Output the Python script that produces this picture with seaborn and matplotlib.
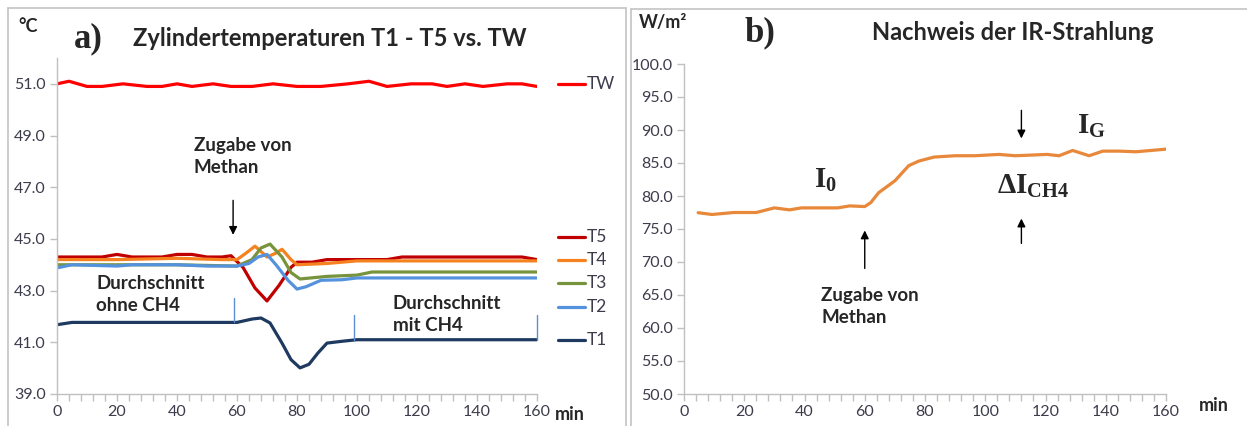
import numpy as np
import pandas as pd
import matplotlib.pyplot as plt
import matplotlib.ticker as mticker
from matplotlib.lines import Line2D
import seaborn as sns

# data
# a) cylinder temperatures
tw_t = [0, 4, 10, 15, 22, 30, 35, 40, 45, 52, 58, 65, 72, 80, 88, 97, 104, 110, 118, 125, 130, 136, 142, 150, 155, 160]
tw_v = [51.0, 51.1, 50.9, 50.9, 51.0, 50.9, 50.9, 51.0, 50.9, 51.0, 50.9, 50.9, 51.0, 50.9, 50.9, 51.0, 51.1, 50.9, 51.0, 51.0, 50.9, 51.0, 50.9, 51.0, 51.0, 50.9]

t5_t = [0, 15, 20, 25, 35, 40, 45, 50, 55, 58, 62, 66, 70, 74, 78, 80, 85, 90, 110, 115, 155, 160]
t5_v = [44.3, 44.3, 44.4, 44.3, 44.3, 44.4, 44.4, 44.3, 44.3, 44.35, 43.9, 43.1, 42.6, 43.2, 43.9, 44.1, 44.1, 44.2, 44.2, 44.3, 44.3, 44.2]

t4_t = [0, 20, 40, 55, 60, 63, 66, 70, 73, 75, 78, 80, 90, 100, 160]
t4_v = [44.2, 44.2, 44.25, 44.2, 44.2, 44.45, 44.72, 44.3, 44.45, 44.6, 44.2, 44.0, 44.05, 44.15, 44.15]

t3_t = [0, 20, 40, 60, 65, 68, 71, 75, 78, 81, 90, 100, 105, 160]
t3_v = [44.0, 44.0, 44.0, 43.95, 44.2, 44.65, 44.8, 44.3, 43.7, 43.45, 43.55, 43.6, 43.72, 43.72]

t2_t = [0, 5, 20, 25, 40, 50, 60, 64, 67, 70, 73, 77, 80, 83, 88, 95, 100, 160]
t2_v = [43.88, 44.0, 43.95, 44.0, 44.0, 43.95, 43.95, 44.05, 44.3, 44.4, 44.0, 43.4, 43.06, 43.15, 43.4, 43.42, 43.49, 43.49]

t1_t = [0, 5, 60, 65, 68, 71, 75, 78, 81, 84, 87, 90, 95, 100, 160]
t1_v = [41.68, 41.77, 41.77, 41.9, 41.94, 41.75, 40.97, 40.33, 40.01, 40.15, 40.59, 40.97, 41.04, 41.1, 41.1]

# b) IR radiation
ir_t = [4.7, 9.3, 16.6, 24, 30, 35, 39, 51, 55, 60, 62, 64.6, 70, 74.6, 78, 83, 90, 96.5, 104.5, 110, 120.5, 124.5, 129, 134.5, 139, 144.5, 150, 155, 160]
ir_v = [77.47, 77.2, 77.5, 77.5, 78.2, 77.9, 78.2, 78.2, 78.5, 78.4, 79.0, 80.5, 82.3, 84.6, 85.3, 85.9, 86.1, 86.1, 86.3, 86.1, 86.3, 86.1, 86.9, 86.1, 86.8, 86.8, 86.7, 86.9, 87.1]

series = [
    ("TW", tw_t, tw_v, "#ff0000"),
    ("T5", t5_t, t5_v, "#c00000"),
    ("T4", t4_t, t4_v, "#f5811f"),
    ("T3", t3_t, t3_v, "#77933c"),
    ("T2", t2_t, t2_v, "#5592dd"),
    ("T1", t1_t, t1_v, "#1f3a60"),
]
label_y = {"TW": 51.0, "T5": 45.08, "T4": 44.19, "T3": 43.3, "T2": 42.37, "T1": 41.1}

sns.set_theme(style="white")
plt.rcParams['font.family'] = ['Lato', 'DejaVu Sans']
plt.rcParams['mathtext.fontset'] = 'custom'
plt.rcParams['mathtext.rm'] = 'Liberation Serif:bold'
plt.rcParams['mathtext.bf'] = 'Liberation Serif:bold'
plt.rcParams['mathtext.it'] = 'Liberation Serif:bold'

tick_col = "#3c3c4c"
axis_col = "#c0c0c0"
lw = 2.3

fig = plt.figure(figsize=(12.47, 4.26), dpi=100)
W, H = 1247, 426

def style_axes(ax):
    sns.despine(ax=ax)
    for s in ["left", "bottom"]:
        ax.spines[s].set_color(axis_col)
        ax.spines[s].set_linewidth(1)
    ax.xaxis.set_major_locator(mticker.MultipleLocator(20))
    ax.xaxis.set_minor_locator(mticker.MultipleLocator(4))
    ax.tick_params(axis="both", which="both", direction="out", length=5, width=1,
                   color=axis_col, labelcolor=tick_col, labelsize=11.5, pad=3)
    ax.tick_params(axis="x", which="both", bottom=True)
    ax.tick_params(axis="y", left=True)
    ax.yaxis.set_major_formatter(mticker.FormatStrFormatter("%.1f"))
    ax.set_xlabel("")
    ax.set_ylabel("")
    ax.set_xlim(0, 160)
    ax.patch.set_alpha(0)

bold = dict(fontweight="bold", va="center", ha="left", linespacing=1.35)

# ---- panel a ----
ax1 = fig.add_axes([57 / W, 1 - 394 / H, 480 / W, (394 - 58) / H])
for name, t, v, c in series:
    df = pd.DataFrame({"t": t, "v": v})
    sns.lineplot(data=df, x="t", y="v", color=c, linewidth=lw, ax=ax1)
    ax1.plot([167, 176], [label_y[name]] * 2, color=c, lw=lw, clip_on=False)
    ax1.text(176.5, label_y[name], name, color=tick_col, fontsize=12.5, va="center", ha="left")
ax1.set_ylim(39, 52)
ax1.set_yticks(np.arange(39, 52, 2))
style_axes(ax1)

# thin markers on T1
for x, y0, y1 in [(59, 41.77, 42.7), (99, 41.1, 42.05), (160, 41.1, 42.05)]:
    ax1.plot([x, x], [y0, y1], color="#5b8fd0", lw=1, clip_on=False)

ax1.annotate("", xy=(58.7, 45.05), xytext=(58.7, 46.6),
             arrowprops=dict(arrowstyle="-|>", color="black", lw=1, mutation_scale=12))
ax1.text(45.5, 48.2, "Zugabe von\nMethan", fontsize=13.5, **bold)
ax1.text(13, 42.85, "Durchschnitt\nohne CH4", fontsize=13.5, **bold)
ax1.text(112, 42.07, "Durchschnitt\nmit CH4", fontsize=13.5, **bold)
ax1.text(5.5, 52.75, "a)", family="Liberation Serif", fontsize=25, fontweight="bold", va="center", ha="left", clip_on=False)
ax1.text(91, 52.75, "Zylindertemperaturen T1 - T5 vs. TW", fontsize=17, fontweight="bold", va="center", ha="center", clip_on=False)
ax1.text(-13, 53.2, "°C", fontsize=13, fontweight="bold", va="center", ha="left", clip_on=False)
ax1.text(166, 38.2, "min", fontsize=13, fontweight="bold", va="center", ha="left", clip_on=False)

# ---- panel b ----
ax2 = fig.add_axes([684 / W, 1 - 394 / H, 482 / W, (394 - 64) / H])
df_ir = pd.DataFrame({"t": ir_t, "v": ir_v})
sns.lineplot(data=df_ir, x="t", y="v", color="#e8883a", linewidth=lw, ax=ax2)
ax2.set_ylim(50, 100)
ax2.set_yticks(np.arange(50, 101, 5))
style_axes(ax2)

arrow = dict(arrowstyle="-|>", color="black", lw=1, mutation_scale=12)
ax2.annotate("", xy=(60, 75.2), xytext=(60, 68.6), arrowprops=arrow)
ax2.annotate("", xy=(112, 77.0), xytext=(112, 72.4), arrowprops=arrow)
ax2.annotate("", xy=(112, 88.3), xytext=(112, 93.4), arrowprops=arrow)
ax2.text(45.5, 63.2, "Zugabe von\nMethan", fontsize=13.5, **bold)
ax2.text(43, 82.3, r"I$_{0}$", family="Liberation Serif", fontsize=21, fontweight="bold", va="center", ha="left")
ax2.text(130.5, 90.6, r"I$_{G}$", family="Liberation Serif", fontsize=21, fontweight="bold", va="center", ha="left")
ax2.text(104, 81.5, r"ΔI$_{CH4}$", family="Liberation Serif", fontsize=21, fontweight="bold", va="center", ha="left")
ax2.text(20, 104.8, "b)", family="Liberation Serif", fontsize=25, fontweight="bold", va="center", ha="left", clip_on=False)
ax2.text(109, 104.8, "Nachweis der IR-Strahlung", fontsize=17, fontweight="bold", va="center", ha="center", clip_on=False)
ax2.text(-15, 106.3, "W/m²", fontsize=13, fontweight="bold", va="center", ha="left", clip_on=False)
ax2.text(171, 48.3, "min", fontsize=13, fontweight="bold", va="center", ha="left", clip_on=False)

# panel borders
def fline(x0, y0, x1, y1):
    fig.add_artist(Line2D([x0 / W, x1 / W], [1 - y0 / H, 1 - y1 / H], color="#c4c4c4", lw=1.2))

fline(8, 8, 8, H)
fline(8, 8, 626, 8)
fline(626, 8, 626, H)
fline(631, 9, 631, H)
fline(631, 9, W, 9)

plt.savefig("out.png", dpi=100)
